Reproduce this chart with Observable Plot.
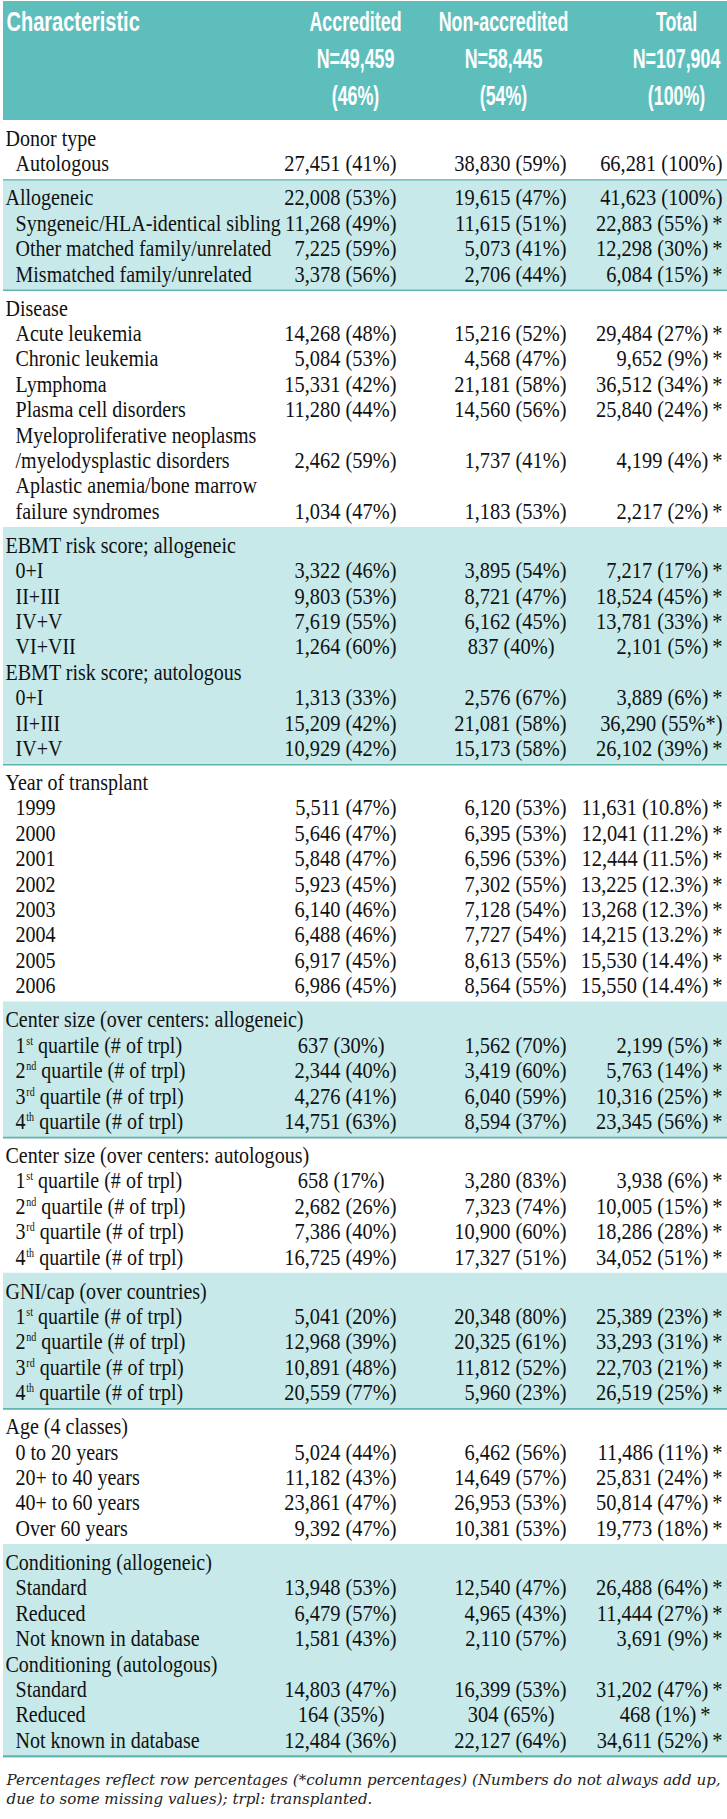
<!DOCTYPE html>
<html><head><meta charset="utf-8">
<script src="https://cdn.jsdelivr.net/npm/d3@7"></script>
<script src="https://cdn.jsdelivr.net/npm/@observablehq/plot@0.6"></script>
<style>
html,body{margin:0;padding:0;background:#fff;}
svg{display:block;}
</style></head><body>
<div id="chart"></div>
<script>
// ---------- DATA ----------
const columnTitles = [
  ["Characteristic"],
  ["Accredited", "N=49,459", "(46%)"],
  ["Non-accredited", "N=58,445", "(54%)"],
  ["Total", "N=107,904", "(100%)"]
];

// rows per section (sections alternate white / shaded, starting white)
const sectionSizes = [2, 4, 9, 9, 9, 5, 5, 5, 5, 8];

const headings = [
  "Donor type", "Allogeneic", "Disease", "EBMT risk score; allogeneic",
  "EBMT risk score; autologous", "Year of transplant",
  "Center size (over centers: allogeneic)", "Center size (over centers: autologous)",
  "GNI/cap (over countries)", "Age (4 classes)",
  "Conditioning (allogeneic)", "Conditioning (autologous)"
];

const labels = [
  "Donor type", "Autologous",
  "Allogeneic", "Syngeneic/HLA-identical sibling", "Other matched family/unrelated", "Mismatched family/unrelated",
  "Disease", "Acute leukemia", "Chronic leukemia", "Lymphoma", "Plasma cell disorders",
  "Myeloproliferative neoplasms", "/myelodysplastic disorders", "Aplastic anemia/bone marrow", "failure syndromes",
  "EBMT risk score; allogeneic", "0+I", "II+III", "IV+V", "VI+VII",
  "EBMT risk score; autologous", "0+I", "II+III", "IV+V",
  "Year of transplant", "1999", "2000", "2001", "2002", "2003", "2004", "2005", "2006",
  "Center size (over centers: allogeneic)", "1st quartile (# of trpl)", "2nd quartile (# of trpl)", "3rd quartile (# of trpl)", "4th quartile (# of trpl)",
  "Center size (over centers: autologous)", "1st quartile (# of trpl)", "2nd quartile (# of trpl)", "3rd quartile (# of trpl)", "4th quartile (# of trpl)",
  "GNI/cap (over countries)", "1st quartile (# of trpl)", "2nd quartile (# of trpl)", "3rd quartile (# of trpl)", "4th quartile (# of trpl)",
  "Age (4 classes)", "0 to 20 years", "20+ to 40 years", "40+ to 60 years", "Over 60 years",
  "Conditioning (allogeneic)", "Standard", "Reduced", "Not known in database",
  "Conditioning (autologous)", "Standard", "Reduced", "Not known in database"
];

const accredited = [
  "", "27,451 (41%)",
  "22,008 (53%)", "11,268 (49%)", "7,225 (59%)", "3,378 (56%)",
  "", "14,268 (48%)", "5,084 (53%)", "15,331 (42%)", "11,280 (44%)", "", "2,462 (59%)", "", "1,034 (47%)",
  "", "3,322 (46%)", "9,803 (53%)", "7,619 (55%)", "1,264 (60%)",
  "", "1,313 (33%)", "15,209 (42%)", "10,929 (42%)",
  "", "5,511 (47%)", "5,646 (47%)", "5,848 (47%)", "5,923 (45%)", "6,140 (46%)", "6,488 (46%)", "6,917 (45%)", "6,986 (45%)",
  "", "637 (30%)", "2,344 (40%)", "4,276 (41%)", "14,751 (63%)",
  "", "658 (17%)", "2,682 (26%)", "7,386 (40%)", "16,725 (49%)",
  "", "5,041 (20%)", "12,968 (39%)", "10,891 (48%)", "20,559 (77%)",
  "", "5,024 (44%)", "11,182 (43%)", "23,861 (47%)", "9,392 (47%)",
  "", "13,948 (53%)", "6,479 (57%)", "1,581 (43%)",
  "", "14,803 (47%)", "164 (35%)", "12,484 (36%)"
];

const nonAccredited = [
  "", "38,830 (59%)",
  "19,615 (47%)", "11,615 (51%)", "5,073 (41%)", "2,706 (44%)",
  "", "15,216 (52%)", "4,568 (47%)", "21,181 (58%)", "14,560 (56%)", "", "1,737 (41%)", "", "1,183 (53%)",
  "", "3,895 (54%)", "8,721 (47%)", "6,162 (45%)", "837 (40%)",
  "", "2,576 (67%)", "21,081 (58%)", "15,173 (58%)",
  "", "6,120 (53%)", "6,395 (53%)", "6,596 (53%)", "7,302 (55%)", "7,128 (54%)", "7,727 (54%)", "8,613 (55%)", "8,564 (55%)",
  "", "1,562 (70%)", "3,419 (60%)", "6,040 (59%)", "8,594 (37%)",
  "", "3,280 (83%)", "7,323 (74%)", "10,900 (60%)", "17,327 (51%)",
  "", "20,348 (80%)", "20,325 (61%)", "11,812 (52%)", "5,960 (23%)",
  "", "6,462 (56%)", "14,649 (57%)", "26,953 (53%)", "10,381 (53%)",
  "", "12,540 (47%)", "4,965 (43%)", "2,110 (57%)",
  "", "16,399 (53%)", "304 (65%)", "22,127 (64%)"
];

const total = [
  "", "66,281 (100%)",
  "41,623 (100%)", "22,883 (55%)*", "12,298 (30%)*", "6,084 (15%)*",
  "", "29,484 (27%)*", "9,652 (9%)*", "36,512 (34%)*", "25,840 (24%)*", "", "4,199 (4%)*", "", "2,217 (2%)*",
  "", "7,217 (17%)*", "18,524 (45%)*", "13,781 (33%)*", "2,101 (5%)*",
  "", "3,889 (6%)*", "36,290 (55%*)", "26,102 (39%)*",
  "", "11,631 (10.8%)*", "12,041 (11.2%)*", "12,444 (11.5%)*", "13,225 (12.3%)*", "13,268 (12.3%)*", "14,215 (13.2%)*", "15,530 (14.4%)*", "15,550 (14.4%)*",
  "", "2,199 (5%)*", "5,763 (14%)*", "10,316 (25%)*", "23,345 (56%)*",
  "", "3,938 (6%)*", "10,005 (15%)*", "18,286 (28%)*", "34,052 (51%)*",
  "", "25,389 (23%)*", "33,293 (31%)*", "22,703 (21%)*", "26,519 (25%)*",
  "", "11,486 (11%)*", "25,831 (24%)*", "50,814 (47%)*", "19,773 (18%)*",
  "", "26,488 (64%)*", "11,444 (27%)*", "3,691 (9%)*",
  "", "31,202 (47%)*", "468 (1%)*", "34,611 (52%)*"
];

const footnote = [
  "Percentages reflect row percentages (*column percentages) (Numbers do not always add up,",
  "due to some missing values); trpl: transplanted."
];

// ---------- LAYOUT / STYLE ----------
const W = 727, H = 1819;
const L = {
  left: 3, headerTop: 1, bodyTop: 120, headerLine0: 22, headerPitch: 37,
  pitch: 25.4, padTop: 5, padBottom: 3.65,
  headX: 5, itemX: 15,
  colX: [6, 355, 503, 676],
  accRight: 396, nonRight: 566, totRight: 722, shortShift: 12,
  footY0: 1780, footPitch: 19, footX: 6, footRight: 721
};
const C = { header: "#5ebebc", band: "#c7e9e9", rule: "#5fb3b1", text: "#111" };
const serif = "Liberation Serif, Times New Roman, serif";
const sans = "Liberation Sans, Arial, sans-serif";
const footFont = "DejaVu Serif, serif";

// build rows and section bands
const rows = [], bands = [];
let cursor = L.bodyTop, idx = 0;
sectionSizes.forEach((n, s) => {
  const top = cursor;
  cursor += L.padTop;
  for (let k = 0; k < n; k++, idx++) {
    rows.push({
      label: labels[idx], acc: accredited[idx], non: nonAccredited[idx], tot: total[idx],
      heading: headings.includes(labels[idx]), y: cursor + L.pitch / 2
    });
    cursor += L.pitch;
  }
  cursor += L.padBottom;
  bands.push({top, bottom: cursor, shaded: s % 2 === 1});
});
const tableBottom = cursor;
const shaded = bands.filter(b => b.shaded);

const headerCells = [];
columnTitles.forEach((lines, c) => lines.forEach((t, j) => headerCells.push({
  text: t, x: L.colX[c], y: L.headerLine0 + j * L.headerPitch, anchor: c === 0 ? "start" : "middle"
})));

// short (3-digit) counts sit a little left of the column's right edge, as typeset
const colX = (right, v) => right - (/^\d{1,3} /.test(v) ? L.shortShift : 0);

const totRows = rows.filter(d => d.tot);
const bodyText = {fontFamily: serif, fontSize: 24, fill: C.text};

// text marks, in order, with the glyph treatment for each
const textMarks = [
  [Plot.text(headerCells.filter(d => d.anchor === "start"), {x: "x", y: "y", text: "text", textAnchor: "start",
      fill: "#fff", fontFamily: sans, fontWeight: "bold", fontSize: 27}), {font: sans, squeeze: 0.74}],
  [Plot.text(headerCells.filter(d => d.anchor === "middle"), {x: "x", y: "y", text: "text", textAnchor: "middle",
      fill: "#fff", fontFamily: sans, fontWeight: "bold", fontSize: 27}), {font: sans, squeeze: 0.66}],
  [Plot.text(rows, {x: d => d.heading ? L.headX : L.itemX, y: "y", text: "label", textAnchor: "start", ...bodyText}),
      {font: serif, squeeze: 0.835, ordinals: true}],
  [Plot.text(rows.filter(d => d.acc), {x: d => colX(L.accRight, d.acc), y: "y", text: "acc", textAnchor: "end", ...bodyText}),
      {font: serif, squeeze: 0.85}],
  [Plot.text(rows.filter(d => d.non), {x: d => colX(L.nonRight, d.non), y: "y", text: "non", textAnchor: "end", ...bodyText}),
      {font: serif, squeeze: 0.85}],
  [Plot.text(totRows, {x: d => colX(L.totRight, d.tot), y: "y", text: d => d.tot.replace(/\)\*$/, ")\u2009*"),
      textAnchor: "end", ...bodyText}), {font: serif, squeeze: 0.85}],
  [Plot.text(footnote.map((t, i) => ({t, i})), {x: L.footX, y: d => L.footY0 + d.i * L.footPitch, text: "t",
      textAnchor: "start", fontFamily: footFont, fontStyle: "italic", fontSize: 15, fill: "#222"}), {font: footFont, fit: true}]
];

const chart = Plot.plot({
  width: W, height: H, margin: 0,
  x: {type: "identity", axis: null},
  y: {type: "identity", axis: null},
  marks: [
    Plot.rect(shaded, {x1: L.left, x2: W, y1: "top", y2: "bottom", fill: C.band}),
    Plot.ruleY(shaded, {x1: L.left, x2: W, y: "bottom", stroke: C.rule, strokeWidth: 1.6}),
    Plot.ruleY(shaded.slice(0, 1), {x1: L.left, x2: W, y: "top", stroke: C.rule, strokeWidth: 1.2}),
    Plot.ruleY([tableBottom], {x1: L.left, x2: W, stroke: C.rule, strokeWidth: 1.6}),
    Plot.rect([0], {x1: L.left, x2: W, y1: L.headerTop, y2: L.bodyTop, fill: C.header}),
    ...textMarks.map(d => d[0])
  ]
});
document.getElementById("chart").appendChild(chart);

// ---------- typographic touches: fonts, ordinals as superscripts, condensed glyphs ----------
const NS = "http://www.w3.org/2000/svg";
const groups = Array.from(chart.querySelectorAll('g[aria-label="text"]'));
function squeeze(g, f) {
  if (f === 1) return;
  g.querySelectorAll("text").forEach(t => {
    const tr = t.getAttribute("transform");
    if (tr) {
      t.setAttribute("transform", `${tr} scale(${f},1)`);
    } else {
      const x = +(t.getAttribute("x") || 0);
      t.setAttribute("x", x / f);
      t.setAttribute("transform", `scale(${f},1)`);
    }
  });
}
groups.forEach((g, i) => {
  const opt = textMarks[i] ? textMarks[i][1] : null;
  if (!opt) return;
  g.style.fontFamily = opt.font;
  if (opt.ordinals) {
    g.querySelectorAll("text").forEach(t => {
      const m = t.textContent.match(/^(\d)(st|nd|rd|th)(\s.*)$/);
      if (!m) return;
      t.textContent = "";
      const a = document.createElementNS(NS, "tspan"); a.textContent = m[1];
      const b = document.createElementNS(NS, "tspan"); b.textContent = m[2];
      b.setAttribute("font-size", "12"); b.setAttribute("dy", "-8"); b.setAttribute("dx", "1");
      const c = document.createElementNS(NS, "tspan"); c.textContent = m[3]; c.setAttribute("dy", "8");
      t.append(a, b, c);
    });
  }
  if (opt.fit) {
    const first = g.querySelector("text");
    const f = first ? (L.footRight - L.footX) / first.getComputedTextLength() : 1;
    squeeze(g, f);
  } else {
    squeeze(g, opt.squeeze);
  }
});
</script>
</body></html>
